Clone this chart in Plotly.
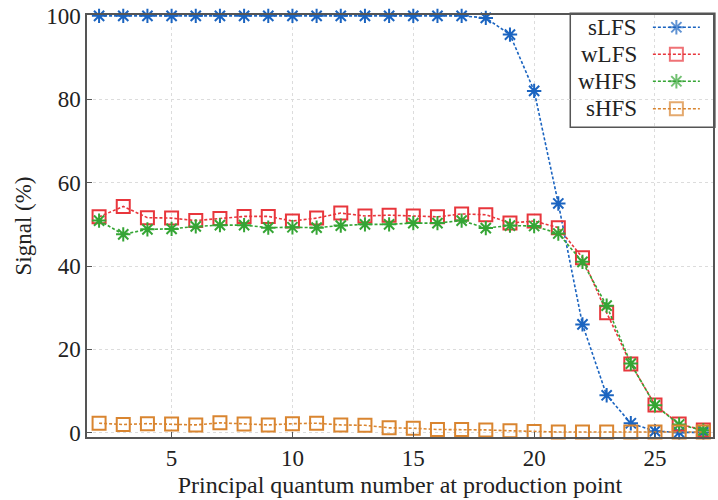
import plotly.graph_objects as go

# ---- data ----
n_values = list(range(2, 28))
sLFS = [100, 100, 100, 100, 100, 100, 100, 100, 100, 100, 100, 100, 100, 100, 100, 100,
        99.5, 95.5, 82, 55, 26, 9, 2.3, 0.4, 0.1, 0.1]
wLFS = [51.8, 54.3, 51.6, 51.5, 50.9, 51.4, 51.9, 51.9, 50.8, 51.5, 52.7, 52.0, 52.2, 52.0,
        51.8, 52.5, 52.3, 50.3, 50.8, 49.2, 42.0, 28.8, 16.5, 6.7, 2.1, 0.7]
wHFS = [50.9, 47.6, 48.8, 48.9, 49.5, 49.8, 49.8, 49.2, 49.3, 49.2, 49.7, 50.0, 50.0, 50.3,
        50.3, 50.9, 49.1, 49.7, 49.6, 47.8, 41.0, 30.5, 16.6, 6.6, 2.0, 0.6]
sHFS = [2.3, 2.0, 2.2, 2.1, 1.9, 2.4, 2.1, 1.9, 2.2, 2.3, 1.9, 1.8, 1.2, 1.1, 0.8, 0.8,
        0.7, 0.5, 0.3, 0.2, 0.2, 0.2, 0.2, 0.2, 0.2, 0.2]
series_names = ["sLFS", "wLFS", "wHFS", "sHFS"]
x_ticks = [5, 10, 15, 20, 25]
y_ticks = [0, 20, 40, 60, 80, 100]

colors = {"sLFS": "#1b64c0", "wLFS": "#e8363c", "wHFS": "#35a535", "sHFS": "#d98530"}
symbols = {"sLFS": "asterisk-open", "wLFS": "square-open", "wHFS": "asterisk-open", "sHFS": "square-open"}
sizes = {"sLFS": 12, "wLFS": 13, "wHFS": 12, "sHFS": 13}
values = {"sLFS": sLFS, "wLFS": wLFS, "wHFS": wHFS, "sHFS": sHFS}

FONT = "Liberation Serif"
fig = go.Figure()

for name in series_names:
    fig.add_trace(go.Scatter(
        x=n_values, y=values[name], mode="lines+markers", name=name,
        line=dict(color=colors[name], width=1.6, dash="3px,2px"),
        marker=dict(symbol=symbols[name], size=sizes[name],
                    line=dict(color=colors[name], width=2)),
        showlegend=False, cliponaxis=False,
    ))

# ---- custom legend (text left, key right, like pgfplots) ----
legend_rows = [0.971, 0.907, 0.843, 0.778]
for name, yr in zip(series_names, legend_rows):
    fig.add_trace(go.Scatter(
        x=[0.904, 0.9415, 0.979], y=[yr, yr, yr], xaxis="x2", yaxis="y2",
        mode="lines+markers", showlegend=False, hoverinfo="skip",
        line=dict(color=colors[name], width=1.6, dash="3px,2px"),
        marker=dict(symbol=symbols[name], size=[0, sizes[name], 0],
                    line=dict(color=colors[name], width=2)),
    ))
    fig.add_annotation(x=0.881, y=yr, xref="paper", yref="paper", text=name,
                       showarrow=False, xanchor="right", yanchor="middle",
                       font=dict(family=FONT, size=23, color="#222"))

fig.add_shape(type="rect", xref="paper", yref="paper", x0=0.772, x1=1.003, y0=0.734, y1=1.004,
              line=dict(color="#555", width=1.5), fillcolor="white", layer="between")

axis_common = dict(
    showline=True, linecolor="#555", linewidth=1.5, mirror=True,
    showgrid=True, gridcolor="#dcdcdc", griddash="dot", gridwidth=1,
    zeroline=False, ticks="inside", ticklen=5, tickcolor="#555",
    tickfont=dict(family=FONT, size=23, color="#222"),
)

fig.update_layout(
    width=718, height=500,
    margin=dict(l=87, r=3, t=15, b=63),
    plot_bgcolor="white", paper_bgcolor="white",
    xaxis=dict(range=[1.5, 27.4], tickvals=x_ticks,
               title=dict(text="Principal quantum number at production point",
                          font=dict(family=FONT, size=24, color="#222"), standoff=6),
               **axis_common),
    yaxis=dict(range=[-1, 100.2], tickvals=y_ticks,
               title=dict(text="Signal (%)", font=dict(family=FONT, size=23, color="#222"), standoff=8),
               **axis_common),
    xaxis2=dict(domain=[0, 1], range=[0, 1], overlaying="x", visible=False, anchor="y2"),
    yaxis2=dict(domain=[0, 1], range=[0, 1], overlaying="y", visible=False, anchor="x2"),
)

fig.write_html("out.html", config={"displayModeBar": False},
               post_script="document.body.style.margin='0';")
